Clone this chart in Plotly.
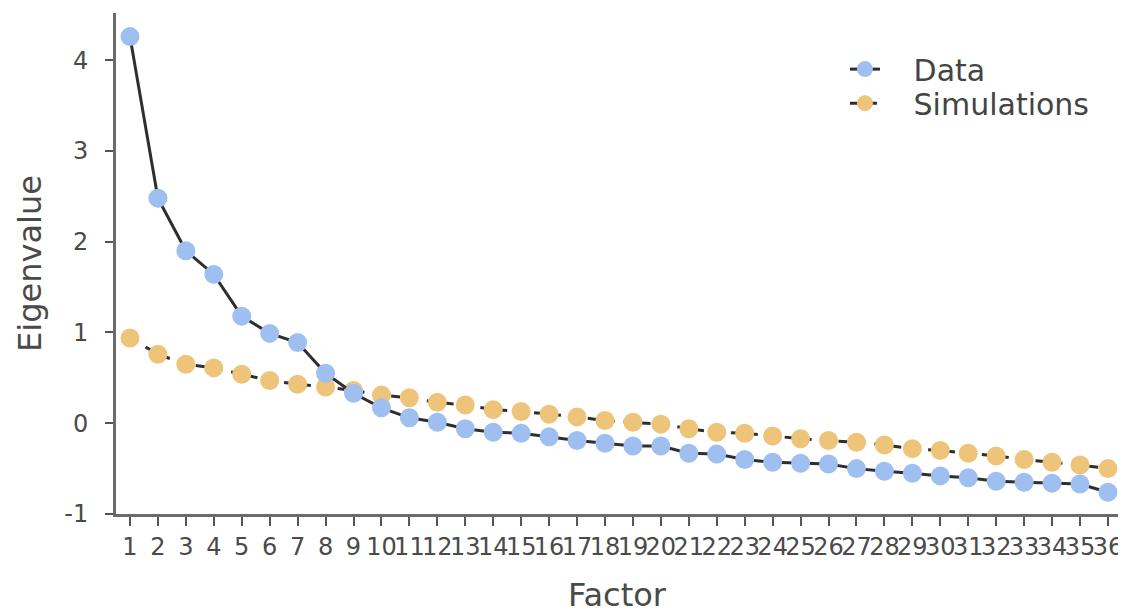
import plotly.graph_objects as go

factors = list(range(1, 37))
data_eig = [4.26, 2.48, 1.90, 1.64, 1.18, 0.99, 0.89, 0.55, 0.33, 0.17,
            0.06, 0.01, -0.06, -0.10, -0.11, -0.15, -0.19, -0.22, -0.25, -0.25,
            -0.33, -0.34, -0.40, -0.43, -0.44, -0.45, -0.50, -0.53, -0.55, -0.58,
            -0.60, -0.64, -0.65, -0.66, -0.67, -0.76]
sim_eig = [0.94, 0.76, 0.65, 0.61, 0.54, 0.47, 0.43, 0.40, 0.36, 0.31,
           0.28, 0.23, 0.20, 0.15, 0.13, 0.10, 0.07, 0.03, 0.01, -0.01,
           -0.06, -0.10, -0.11, -0.14, -0.17, -0.19, -0.21, -0.24, -0.28, -0.30,
           -0.33, -0.36, -0.40, -0.43, -0.46, -0.50]
y_ticks = [-1, 0, 1, 2, 3, 4]
series_names = ["Data", "Simulations"]

FONT = "DejaVu Sans, Liberation Sans, Arial, sans-serif"
TXT = "#4a4a4a"
PAD = "\u00a0\u00a0\u00a0"
fig = go.Figure()
fig.add_trace(go.Scatter(
    x=factors, y=sim_eig, name=PAD + series_names[1], mode="lines+markers",
    line=dict(color="#2e2e2e", width=3, dash="dash"),
    marker=dict(size=19, color="#edc47a"), legend="legend2"))
fig.add_trace(go.Scatter(
    x=factors, y=data_eig, name=PAD + series_names[0], mode="lines+markers",
    line=dict(color="#2e2e2e", width=3),
    marker=dict(size=19, color="#9ebff0"), legend="legend"))

leg_common = dict(xanchor="left", yanchor="middle",
                  font=dict(size=30, color="#444444", family=FONT),
                  bgcolor="rgba(0,0,0,0)", itemwidth=30, borderwidth=0)
# the page body adds an 8px offset, so the figure is sized 8px smaller
fig.update_layout(
    width=1118, height=606,
    margin=dict(l=108, r=8, t=5, b=100),
    paper_bgcolor="white", plot_bgcolor="white",
    font=dict(family=FONT, color=TXT, size=24),
    showlegend=True,
    legend=dict(x=0.7275, y=0.888, **leg_common),
    legend2=dict(x=0.7275, y=0.820, **leg_common),
    xaxis=dict(
        range=[0.5, 36.36], tickmode="array", tickvals=factors,
        ticktext=[str(f) for f in factors], tickangle=0, automargin=False,
        showgrid=False, zeroline=False, showline=True,
        linecolor="#6b6b6b", linewidth=3, ticks="outside",
        ticklen=9, tickwidth=2, tickcolor="#555555",
        tickfont=dict(size=24, color=TXT),
        title=dict(text="Factor", font=dict(size=32, color=TXT), standoff=26),
    ),
    yaxis=dict(
        range=[-1, 4.52], tickmode="array", tickvals=y_ticks,
        ticktext=[str(v) for v in y_ticks], automargin=False,
        showgrid=False, zeroline=False, showline=True,
        linecolor="#6b6b6b", linewidth=3, ticks="outside",
        ticklen=8, tickwidth=2, tickcolor="#555555",
        tickfont=dict(size=24, color=TXT), ticklabelstandoff=12,
        title=dict(text="Eigenvalue", font=dict(size=32, color=TXT), standoff=14),
    ),
)

fig.write_html("out.html")
